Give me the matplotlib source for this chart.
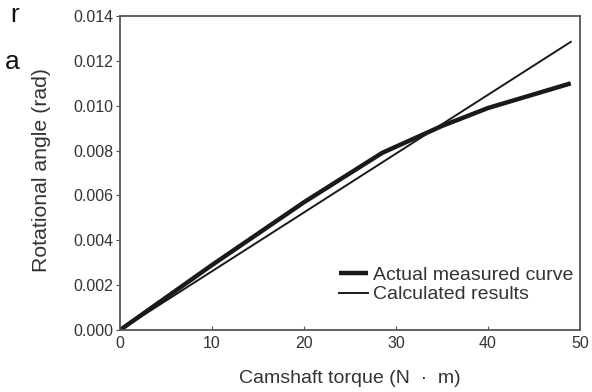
import matplotlib.pyplot as plt

plt.rcParams['font.family'] = ['Liberation Sans', 'DejaVu Sans']

# Data
torque_measured = [0, 10, 20, 28.5, 35, 40, 49]
angle_measured = [0, 0.0029, 0.0057, 0.0079, 0.0091, 0.0099, 0.0110]
torque_calc = [0, 49]
angle_calc = [0, 0.01285]

x_ticks = [0, 10, 20, 30, 40, 50]
y_ticks = [0.000, 0.002, 0.004, 0.006, 0.008, 0.010, 0.012, 0.014]

fig = plt.figure(figsize=(5.92, 3.92), dpi=100)
ax = fig.add_axes([0.2027, 0.158, 0.777, 0.801])

ax.plot(torque_measured, angle_measured, color='#1a1a1a', lw=3.2,
        solid_capstyle='butt', label='Actual measured curve')
ax.plot(torque_calc, angle_calc, color='#1a1a1a', lw=1.4,
        label='Calculated results')

ax.set_xlim(0, 50)
ax.set_ylim(0, 0.014)
ax.set_xticks(x_ticks)
ax.set_yticks(y_ticks)
ax.set_yticklabels([f'{v:.3f}' for v in y_ticks])

ax.tick_params(axis='x', direction='in', length=3, colors='#555555',
               labelcolor='#333333', labelsize=11.5, pad=4)
ax.tick_params(axis='y', direction='out', length=3, colors='#555555',
               labelcolor='#333333', labelsize=11.5, pad=2)
for s in ax.spines.values():
    s.set_color('#555555')
    s.set_linewidth(1.3)

ax.set_xlabel('Camshaft torque (N  ·  m)', fontsize=14, color='#333333', labelpad=14)
ax.set_ylabel('Rotational angle (rad)', fontsize=15.3, color='#333333')
ax.yaxis.set_label_coords(-0.15, 0.51)

ax.legend(loc='lower right', bbox_to_anchor=(0.985, 0.085), frameon=False,
          fontsize=14, handlelength=1.5, handletextpad=0.25,
          labelspacing=0.1, borderaxespad=0, borderpad=0,
          labelcolor='#333333')

# stray text fragments at the left edge of the reference
fig.text(0.018, 0.962, 'r', fontsize=19, color='#111111', va='center')
fig.text(0.008, 0.842, 'a', fontsize=19, color='#111111', va='center')

fig.savefig('out.png', dpi=100)
